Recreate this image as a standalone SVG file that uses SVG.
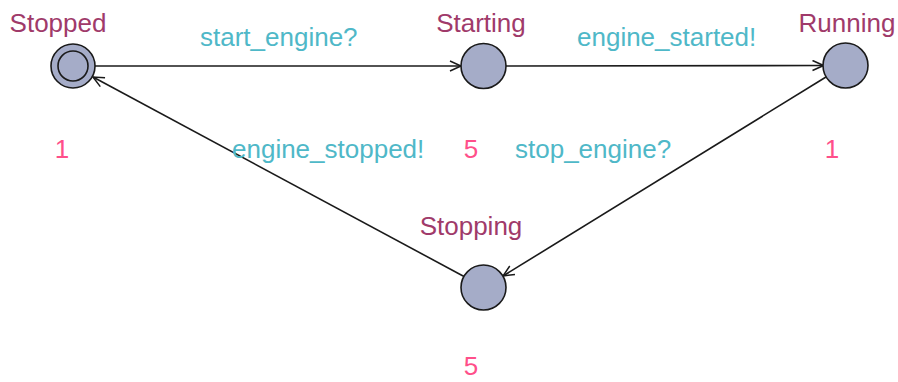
<svg xmlns="http://www.w3.org/2000/svg" width="898" height="382" viewBox="0 0 898 382">
<style>
.loc{fill:#a5acc8;stroke:#1a1a1a;stroke-width:1.6}
.nm{font-family:"Liberation Sans",Arial,sans-serif;font-size:26px;fill:#a03a6a}
.inv{font-family:"Liberation Sans",Arial,sans-serif;font-size:26px;fill:#ff4f8a}
.lbl{font-family:"Liberation Sans",Arial,sans-serif;font-size:26px;fill:#4fb8c8}
.edge{fill:none;stroke:#1a1a1a;stroke-width:1.6}
</style>
<defs>
<marker id="arr" markerUnits="userSpaceOnUse" markerWidth="14" markerHeight="12" refX="12" refY="6" orient="auto">
<path d="M1,1 L12,6 L1,11" fill="none" stroke="#1a1a1a" stroke-width="1.5"/>
</marker>
</defs>
<g id="edges">
<line class="edge" x1="95" y1="66" x2="461" y2="66" marker-end="url(#arr)"/>
<line class="edge" x1="505.5" y1="66" x2="823.5" y2="65.5" marker-end="url(#arr)"/>
<line class="edge" x1="826" y1="77" x2="503" y2="276" marker-end="url(#arr)"/>
<line class="edge" x1="464" y1="276.5" x2="93" y2="77" marker-end="url(#arr)"/>
<text class="lbl" x="200" y="46">start_engine?</text>
<text class="lbl" x="577" y="46">engine_started!</text>
<text class="lbl" x="232" y="158">engine_stopped!</text>
<text class="lbl" x="515" y="158">stop_engine?</text>
</g>
<g id="Stopped">
<circle class="loc" cx="73" cy="66" r="22"/>
<circle class="loc" cx="73" cy="66" r="15"/>
<text class="nm" x="58" y="32" text-anchor="middle">Stopped</text>
<text class="inv" x="62" y="158" text-anchor="middle">1</text>
</g>
<g id="Starting">
<circle class="loc" cx="483.5" cy="66" r="22.5"/>
<text class="nm" x="481" y="32" text-anchor="middle">Starting</text>
<text class="inv" x="471" y="158" text-anchor="middle">5</text>
</g>
<g id="Running">
<circle class="loc" cx="845.5" cy="65.5" r="22.5"/>
<text class="nm" x="847" y="32" text-anchor="middle">Running</text>
<text class="inv" x="832" y="158" text-anchor="middle">1</text>
</g>
<g id="Stopping">
<circle class="loc" cx="483.5" cy="287.5" r="22.5"/>
<text class="nm" x="471" y="235" text-anchor="middle">Stopping</text>
<text class="inv" x="471" y="375" text-anchor="middle">5</text>
</g>
</svg>
